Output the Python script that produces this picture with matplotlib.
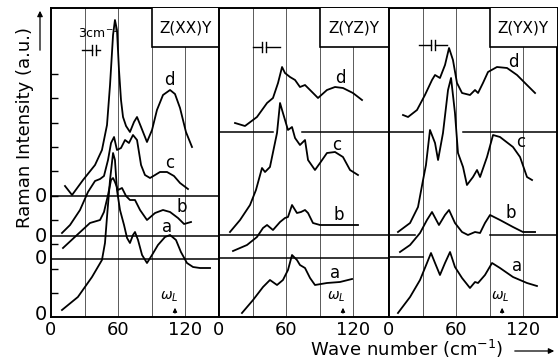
import matplotlib
matplotlib.use("Agg")
import matplotlib.pyplot as plt
from matplotlib.patches import Rectangle, FancyArrowPatch

# wave numbers (cm-1) and intensities above each baseline
# Z(XX)Y
xx_d_x = [12.5, 18.8, 28.6, 39.3, 45.5, 50, 52.7, 55.4, 57.1, 58.9, 60.7, 62.5, 64.3, 67, 70.5, 74.1, 76.8, 80.4, 85.7, 90.2, 94.6, 100, 106.3, 110.7, 115.2, 120.5, 125.9]
xx_d_y = [10, 1, 16, 31, 46, 71, 111, 161, 176, 166, 126, 96, 79, 70, 64, 74, 79, 69, 54, 66, 86, 101, 106, 102, 88, 64, 49]
xx_c_x = [9.8, 17, 25.9, 33, 39.3, 43.8, 47.3, 50.9, 53.6, 56.3, 58.9, 62.5, 66.1, 69.6, 73.2, 76.8, 80.4, 83.9, 88.4, 92.9, 97.3, 103.6, 109.8, 115.2, 122.3]
xx_c_y = [3, 11, 26, 44, 55, 57, 60, 76, 93, 99, 86, 88, 96, 93, 101, 96, 71, 61, 58, 61, 64, 64, 60, 53, 47]
xx_b_x = [10.7, 23.2, 34.8, 43.8, 47.3, 50.9, 53.6, 55.4, 57.1, 59.8, 63.4, 67, 70.5, 75, 79.5, 85.7, 92.9, 100, 106.3, 113.4, 118.8, 125]
xx_b_y = [11, 24, 36, 39, 47, 64, 79, 81, 77, 69, 71, 63, 59, 59, 49, 39, 46, 49, 47, 41, 35, 37]
xx_a_x = [9.8, 24, 36.6, 45.5, 48.2, 50, 52.7, 55.4, 57.1, 58.9, 61.6, 65.2, 67.9, 70.5, 73.2, 75, 77.7, 81.3, 85.7, 90.2, 95.5, 101.8, 106.3, 111.6, 116, 121.4, 126.8, 133, 137.5, 142]
xx_a_y = [4, 17, 37, 54, 71, 97, 134, 161, 154, 124, 104, 89, 76, 71, 79, 82, 74, 59, 51, 59, 69, 77, 79, 74, 62, 51, 47, 46, 46, 46]

# Z(YZ)Y
yz_d_x = [14.3, 23.2, 33.9, 42.9, 48.2, 52.7, 56.3, 58.9, 63.4, 67.9, 72.3, 76.8, 81.3, 88.4, 96.4, 103.6, 110.7, 119.6, 127.7]
yz_d_y = [9, 6, 15, 29, 34, 49, 65, 59, 55, 52, 45, 47, 42, 34, 42, 45, 44, 39, 32]
yz_c_x = [9.8, 18.8, 27.7, 33, 38.4, 41.1, 45.5, 51.8, 54.5, 57.1, 61.6, 65.2, 67.9, 72.3, 76.8, 79.5, 85.7, 90.2, 96.4, 103.6, 110.7, 117, 124.1]
yz_c_y = [3, 15, 30, 45, 67, 63, 68, 102, 132, 122, 105, 108, 97, 90, 95, 75, 65, 72, 82, 83, 78, 65, 60]
yz_b_x = [12.5, 25, 33.9, 39.3, 42.9, 48.2, 54.5, 58.9, 61.6, 65.2, 69.6, 73.2, 76.8, 79.5, 83.9, 90.2, 108, 124.1]
yz_b_y = [7, 13, 21, 30, 33, 28, 36, 40, 41, 53, 45, 46, 48, 45, 35, 33, 33, 33]
yz_a_x = [20.5, 30.4, 39.3, 45.5, 51.8, 57.1, 61.6, 65.2, 69.6, 72.3, 76.8, 81.3, 85.7, 96.4, 108, 118.8]
yz_a_y = [4, 17, 30, 37, 32, 37, 47, 62, 57, 52, 49, 39, 32, 34, 35, 38]

# Z(YX)Y
yx_d_x = [12.5, 17, 25, 32.1, 38.4, 41.1, 45.5, 50, 53.6, 57.1, 60.7, 65.2, 72.3, 76.8, 79.5, 83.9, 88.4, 96.4, 105.4, 114.3, 123.2, 130.4]
yx_d_y = [17, 15, 22, 37, 52, 57, 54, 67, 84, 72, 49, 39, 37, 42, 39, 49, 60, 65, 64, 57, 47, 39]
yx_c_x = [8, 18.8, 25.9, 30.4, 33, 36.6, 41.1, 43.8, 48.2, 52.7, 55.4, 58.9, 61.6, 66.1, 69.6, 75, 78.6, 81.3, 87.5, 92.9, 99.1, 110.7, 117, 123.2, 127.7]
yx_c_y = [3, 12, 28, 55, 70, 105, 92, 75, 102, 145, 157, 122, 82, 68, 50, 58, 65, 58, 78, 100, 98, 88, 78, 58, 55]
yx_b_x = [9.8, 18.8, 27.7, 33.9, 38.4, 44.6, 50, 53.6, 58.9, 65.2, 70.5, 76.8, 81.3, 85.7, 90.2, 99.1, 110.7, 119.6, 130.4]
yx_b_y = [5, 12, 24, 37, 45, 32, 42, 47, 34, 25, 22, 25, 24, 34, 42, 37, 30, 25, 25]
yx_a_x = [8, 18.8, 27.7, 33.9, 37.5, 41.1, 45.5, 50, 54.5, 58.9, 65.2, 72.3, 76.8, 79.5, 85.7, 92, 99.1, 110.7, 123.2, 132.1]
yx_a_y = [4, 20, 37, 54, 64, 54, 42, 54, 65, 50, 39, 29, 35, 34, 42, 54, 49, 40, 34, 31]

titles = ["Z(XX)Y", "Z(YZ)Y", "Z(YX)Y"]
names = ["a", "b", "c", "d"]
spectra = [
    [(xx_a_x, xx_a_y), (xx_b_x, xx_b_y), (xx_c_x, xx_c_y), (xx_d_x, xx_d_y)],
    [(yz_a_x, yz_a_y), (yz_b_x, yz_b_y), (yz_c_x, yz_c_y), (yz_d_x, yz_d_y)],
    [(yx_a_x, yx_a_y), (yx_b_x, yx_b_y), (yx_c_x, yx_c_y), (yx_d_x, yx_d_y)],
]
offsets = [[3, 58, 81, 121], [0, 59, 82, 185], [0, 60, 82, 185]]
label_pos = [
    [(103.6, 90), (117, 110), (106, 154), (106, 237)],
    [(104, 44), (107, 102), (105, 172), (108, 239)],
    [(114, 51), (109, 104), (118, 175), (111, 255)],
]
# baseline segments drawn in each panel
base_lines = [
    [(58, 0, 150), (81, 0, 150), (121, 0, 150)],
    [(59, 0, 152), (82, 0, 152), (185, 0, 48), (185, 74, 152)],
    [(60, 0, 30), (82, 0, 23), (82, 90, 150), (185, 0, 30), (185, 66, 150)],
]
slit = [(27.7, 36.6, 40.2, 43.8, 267), (30.4, 38.4, 42, 54.5, 270), (26.8, 37.5, 41, 51.8, 272)]
omega = [(106, 110.7), (104.5, 110.7), (99, 101)]

plt.rcParams['font.family'] = 'DejaVu Sans'
fig = plt.figure(figsize=(5.58, 3.62), dpi=100)
W, H = 558, 362
rects = [(51, 168, 150), (219, 170, 151.8), (389, 168, 150)]

for i in range(3):
    left, width, xmax = rects[i]
    ax = fig.add_axes([left / W, 45 / H, width / W, 309 / H])
    ax.set_xlim(0, xmax)
    ax.set_ylim(0, 309)
    for gx in [30, 60, 90, 120]:
        ax.axvline(gx, color='0.35', lw=0.7, zorder=1)
    for (yb, x0, x1) in base_lines[i]:
        ax.plot([x0, x1], [yb, yb], color='black', lw=1.1, zorder=2)
    for k in range(4):
        xs, ys = spectra[i][k]
        ax.plot(xs, [v + offsets[i][k] for v in ys], color='black', lw=1.3, zorder=3)
        lx, ly = label_pos[i][k]
        ax.text(lx, ly, names[k], fontsize=12, ha='center', va='center')
    ax.add_patch(Rectangle((90, 270), 70, 45, facecolor='white', edgecolor='black', lw=1.2, zorder=4))
    ax.text(120, 289, titles[i], fontsize=11, ha='center', va='center', zorder=5)
    # slit width mark
    s0, s1, s2, s3, sy = slit[i]
    ax.plot([s0, s1], [sy, sy], color='black', lw=1)
    ax.plot([s2, s3], [sy, sy], color='black', lw=1)
    ax.plot([s1, s1], [sy - 5, sy + 5], color='black', lw=1)
    ax.plot([s2, s2], [sy - 5, sy + 5], color='black', lw=1)
    # laser frequency mark
    tx, axx = omega[i]
    ax.text(tx, 20, r'$\omega_L$', fontsize=10, ha='center', va='center')
    ax.annotate('', xy=(axx, 12), xytext=(axx, 1),
                arrowprops=dict(arrowstyle='-|>', color='black', lw=0.8, mutation_scale=6))
    ax.set_xticks([0, 60, 120])
    ax.set_xticklabels(['0', '60', '120'], fontsize=13)
    ax.tick_params(axis='x', length=0, pad=3)
    for sp in ax.spines.values():
        sp.set_linewidth(1.4)
    if i == 0:
        ax.set_yticks([24, 48, 73, 97, 121, 146, 170, 194, 219, 243])
        ax.set_yticklabels([])
        ax.tick_params(axis='y', direction='in', length=5, width=1)
        for yb in offsets[0]:
            ax.text(-4, yb, '0', fontsize=14, ha='right', va='center')
    else:
        ax.set_yticks([])

fig.axes[0].text(24, 284, '3cm$^{-1}$', fontsize=9, ha='left', va='center')

fig.text(25 / W, 1 - 127 / H, 'Raman Intensity (a.u.)', rotation=90, fontsize=13, ha='center', va='center')
fig.add_artist(FancyArrowPatch((40 / W, 1 - 53 / H), (40 / W, 1 - 8 / H),
                transform=fig.transFigure, arrowstyle='-|>', mutation_scale=8, color='black', lw=0.9))
fig.text(310 / W, 1 - 349 / H, 'Wave number (cm$^{-1}$)', fontsize=13, ha='left', va='center')
fig.add_artist(FancyArrowPatch((512 / W, 1 - 351 / H), (557 / W, 1 - 351 / H),
                transform=fig.transFigure, arrowstyle='-|>', mutation_scale=8, color='black', lw=0.9))

fig.savefig('out.png', dpi=100)
